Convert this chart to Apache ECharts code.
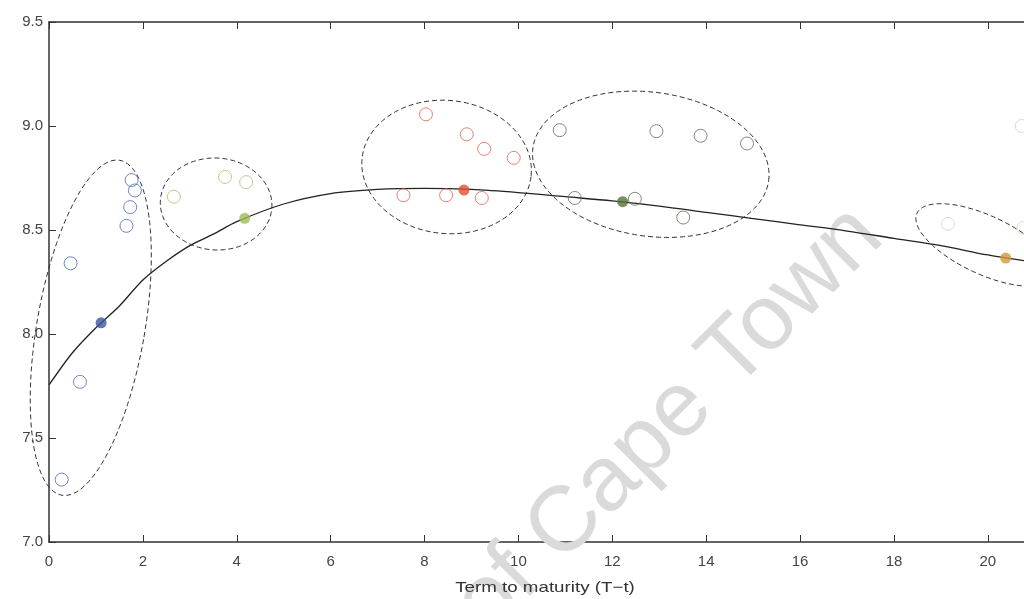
<!DOCTYPE html>
<html>
<head>
<meta charset="utf-8">
<script src="https://cdn.jsdelivr.net/npm/echarts@6/dist/echarts.min.js"></script>
<style>
  html, body { margin: 0; padding: 0; background: #fff; }
  #chart { width: 1024px; height: 599px; }
</style>
</head>
<body>
<div id="chart"></div>
<script>
// fitted curve
var curveX = [0, 0.5, 1, 1.5, 2, 2.5, 3, 3.5, 4, 5, 6, 7, 8, 9, 10, 11, 12, 13, 14, 15, 16, 17, 18, 19, 20, 21];
var curveY = [7.755, 7.91, 8.03, 8.135, 8.26, 8.35, 8.425, 8.48, 8.54, 8.625, 8.675, 8.695, 8.70, 8.695, 8.68, 8.66, 8.64, 8.615, 8.585, 8.555, 8.525, 8.495, 8.46, 8.425, 8.38, 8.345];

// observed bonds, one array per cluster
var blueX = [1.76, 1.83, 1.73, 1.65, 0.46, 0.66, 0.27];
var blueY = [8.74, 8.69, 8.61, 8.52, 8.34, 7.77, 7.30];
var lgreenX = [2.66, 3.75, 4.20];
var lgreenY = [8.66, 8.755, 8.73];
var redX = [8.03, 8.90, 9.27, 9.90, 7.55, 8.46, 9.22];
var redY = [9.056, 8.96, 8.89, 8.847, 8.667, 8.667, 8.654];
var dgreenX = [10.88, 12.94, 13.88, 14.87, 11.20, 12.48, 13.51];
var dgreenY = [8.98, 8.975, 8.953, 8.916, 8.654, 8.65, 8.56];
var orangeX = [19.15, 20.72, 20.76];
var orangeY = [8.53, 9.0, 8.51];

// cluster centres
var centreX = [1.11, 4.17, 8.84, 12.22, 20.38];
var centreY = [8.054, 8.556, 8.692, 8.636, 8.365];
var centreCol = ['#3a56a3', '#9cbb55', '#e0502e', '#557238', '#d4953a'];

// cluster ellipses: centre, half width (x units), half height (y units), tilt (deg)
var ellCx = [0.89, 3.56, 8.47, 12.82, 19.94];
var ellCy = [8.03, 8.625, 8.803, 8.816, 8.428];
var ellRx = [1.15, 1.19, 1.81, 2.535, 1.6];
var ellRy = [0.817, 0.221, 0.32, 0.346, 0.14];
var ellTilt = [-9.8, -4, -6, -8, -25];

function pairs(xs, ys) {
  return xs.map(function (x, i) { return [x, ys[i]]; });
}

function openSeries(name, xs, ys, col) {
  return {
    name: name,
    type: 'scatter',
    data: pairs(xs, ys),
    symbol: 'circle',
    symbolSize: 13,
    clip: false,
    itemStyle: { color: 'rgba(0,0,0,0)', borderColor: col, borderWidth: 1 },
    z: 4
  };
}

var chart = echarts.init(document.getElementById('chart'));

var labelFont = { color: '#444', fontSize: 15, fontFamily: 'Liberation Sans' };
var xMax = 20.77;   // the plot runs off the right edge of the picture

var option = {
  backgroundColor: '#fff',
  animation: false,
  grid: { left: 49, top: 22, right: 0, height: 520 },
  xAxis: [{
    type: 'value',
    min: 0, max: xMax, interval: 2,
    position: 'bottom',
    axisLine: { onZero: false, lineStyle: { color: '#333', width: 1.5 } },
    axisTick: { inside: true, length: 7, lineStyle: { color: '#333' } },
    axisLabel: Object.assign({ margin: 12, showMaxLabel: false }, labelFont),
    splitLine: { show: false }
  }, {
    type: 'value',
    min: 0, max: xMax, interval: 2,
    position: 'top',
    axisLine: { onZero: false, lineStyle: { color: '#333', width: 1.5 } },
    axisTick: { inside: true, length: 7, lineStyle: { color: '#333' } },
    axisLabel: { show: false },
    splitLine: { show: false }
  }],
  yAxis: {
    type: 'value',
    min: 7, max: 9.5, interval: 0.5,
    axisLine: { show: true, onZero: false, lineStyle: { color: '#333', width: 1.5 } },
    axisTick: { show: true, inside: true, length: 7, lineStyle: { color: '#333' } },
    axisLabel: Object.assign({ margin: 6, formatter: function (v) { return v.toFixed(1); } }, labelFont),
    splitLine: { show: false }
  },
  graphic: [{
    type: 'text',
    x: 868, y: 222,
    rotation: 45 * Math.PI / 180,
    z: 1,
    silent: true,
    style: {
      text: 'University of Cape Town',
      fontSize: 92,
      fontFamily: 'Liberation Sans',
      fill: '#dadada',
      align: 'right',
      verticalAlign: 'middle'
    }
  }, {
    // x axis title, sits under the visible part of the axis
    type: 'text',
    x: 545, y: 588,
    scaleX: 1.25,
    z: 10,
    silent: true,
    style: {
      text: 'Term to maturity (T\u2212t)',
      fontSize: 15,
      fontFamily: 'Liberation Sans',
      fill: '#333',
      align: 'center',
      verticalAlign: 'middle'
    }
  }],
  series: [
    {
      name: 'ellipses',
      type: 'custom',
      clip: false,
      data: ellCx.map(function (cx, i) { return [cx, ellCy[i], ellRx[i], ellRy[i], ellTilt[i]]; }),
      renderItem: function (params, api) {
        var c = api.coord([api.value(0), api.value(1)]);
        var rx = api.size([api.value(2), 0])[0];
        var ry = api.size([0, api.value(3)])[1];
        var th = api.value(4) * Math.PI / 180;
        var pts = [];
        for (var k = 0; k < 120; k++) {
          var t = k / 120 * Math.PI * 2;
          var u = rx * Math.cos(t), v = ry * Math.sin(t);
          var xm = u * Math.cos(th) - v * Math.sin(th);
          var ym = u * Math.sin(th) + v * Math.cos(th);
          pts.push([c[0] + xm, c[1] - ym]);
        }
        return {
          type: 'polygon',
          shape: { points: pts },
          style: { fill: 'none', stroke: '#333', lineWidth: 1, lineDash: [5, 3] }
        };
      },
      z: 2
    },
    {
      name: 'curve',
      type: 'line',
      data: pairs(curveX, curveY),
      smooth: 0.3,
      showSymbol: false,
      lineStyle: { color: '#222', width: 1.3 },
      z: 3
    },
    openSeries('c1', blueX, blueY, '#4a68b5'),
    openSeries('c2', lgreenX, lgreenY, '#a9c070'),
    openSeries('c3', redX, redY, '#e2614c'),
    openSeries('c4', dgreenX, dgreenY, '#5f6f5c'),
    openSeries('c5', orangeX, orangeY, '#e3cdb5'),
    {
      name: 'centres',
      type: 'scatter',
      data: centreX.map(function (x, i) {
        return { value: [x, centreY[i]], itemStyle: { color: centreCol[i] } };
      }),
      symbolSize: 11,
      z: 5
    }
  ]
};

chart.setOption(option);
</script>
</body>
</html>
